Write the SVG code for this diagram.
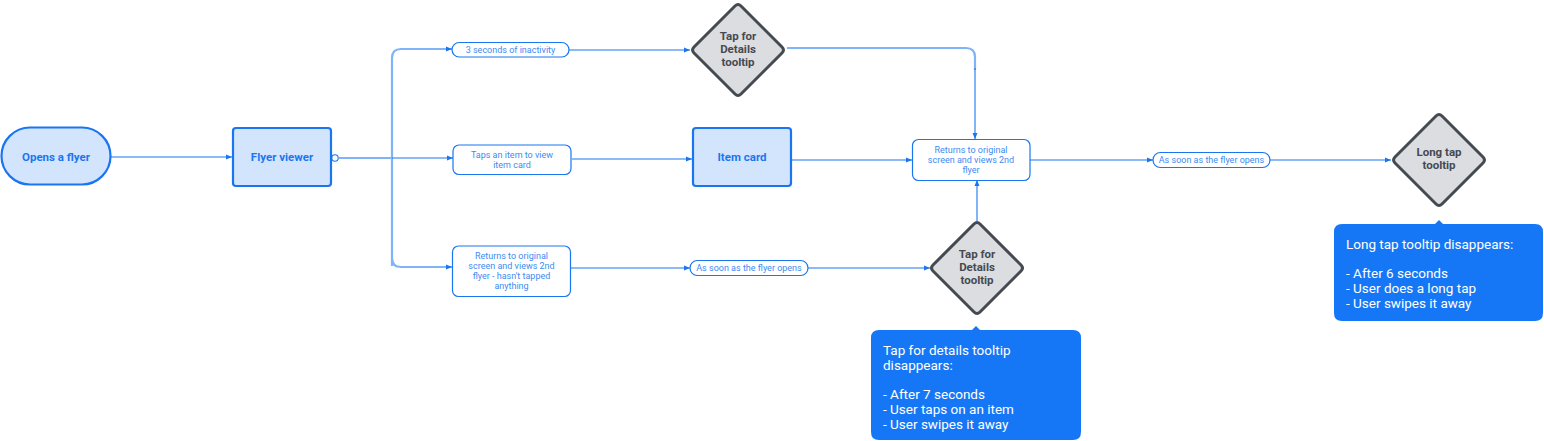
<svg xmlns="http://www.w3.org/2000/svg" width="1544" height="441" viewBox="0 0 1544 441">
<defs>
<style>
.node{fill:#d3e5fd;stroke:#1a76f0;stroke-width:2.2}
.lbl{fill:#fff;stroke:#1a76f0;stroke-width:1.2}
.dia{fill:#dcdde0;stroke:#454a51;stroke-width:3;stroke-linejoin:round}
.t1{font-family:Roboto,"Liberation Sans",sans-serif;font-weight:bold;font-size:11.5px;fill:#1a76f0;text-anchor:middle}
.t2{font-family:Roboto,"Liberation Sans",sans-serif;font-size:9px;fill:#3d8bf3;text-anchor:middle}
.td{font-family:Roboto,"Liberation Sans",sans-serif;font-weight:bold;font-size:11.5px;fill:#454a51;text-anchor:middle}
.tc{font-family:Roboto,"Liberation Sans",sans-serif;font-size:13.5px;fill:#fff}
.c{fill:none;stroke:#1a76f0;stroke-width:1.1}
.cl{fill:none;stroke:#80b4f8;stroke-width:2.2}
.call{fill:#1677f6}
</style>
<marker id="ar" viewBox="0 0 6 6" refX="6" refY="3" markerWidth="6" markerHeight="6" markerUnits="userSpaceOnUse" orient="auto">
<path d="M0,0.5 L6,3 L0,5.5 z" fill="#1a76f0"/>
</marker>
</defs>

<g id="connectors">
<path class="c" d="M111,157 L232,157" marker-end="url(#ar)"/>
<path class="cl" d="M339,158 L392,158"/>
<path class="cl" d="M392,266 L392,58 Q392,49 401,49 L448,49"/>
<path class="cl" d="M392,258 Q392,267 401,267 L448,267"/>
<path class="c" d="M446,49 L452,49" marker-end="url(#ar)"/>
<path class="c" d="M392,158 L453,158" marker-end="url(#ar)"/>
<path class="c" d="M446,267 L452,267" marker-end="url(#ar)"/>
<circle cx="335" cy="158" r="3.2" fill="#fff" stroke="#1a76f0" stroke-width="1.1"/>
<path class="c" d="M569,50 L690,50" marker-end="url(#ar)"/>
<path class="c" d="M572,159 L692,159" marker-end="url(#ar)"/>
<path class="c" d="M571,268 L690,268" marker-end="url(#ar)"/>
<path class="c" d="M808,268 L930,268" marker-end="url(#ar)"/>
<path class="cl" d="M787,48 L966,48 Q975,48 975,57 L975,70"/>
<path class="c" d="M975,68 L975,139" marker-end="url(#ar)"/>
<path class="c" d="M792,160 L912,160" marker-end="url(#ar)"/>
<path class="c" d="M977,221 L977,180" marker-end="url(#ar)"/>
<path class="c" d="M1030,160 L1153,160" marker-end="url(#ar)"/>
<path class="c" d="M1270,160 L1391,160" marker-end="url(#ar)"/>
</g>

<g id="opens-flyer">
<rect class="node" x="1.5" y="127.5" width="109" height="57" rx="28.5"/>
<text class="t1" x="56" y="160.5">Opens a flyer</text>
</g>

<g id="flyer-viewer">
<rect class="node" x="233" y="128" width="98" height="58" rx="3"/>
<text class="t1" x="282" y="161">Flyer viewer</text>
</g>

<g id="lbl-inactivity">
<rect class="lbl" x="452" y="42.5" width="117" height="14.5" rx="7.25"/>
<text class="t2" x="510.5" y="53">3 seconds of inactivity</text>
</g>

<g id="lbl-taps-item">
<rect class="lbl" x="453" y="145" width="118" height="29.5" rx="6"/>
<text class="t2" x="512" y="158">Taps an item to view</text>
<text class="t2" x="512" y="168">item card</text>
</g>

<g id="lbl-returns-untapped">
<rect class="lbl" x="452.5" y="246" width="118" height="50.5" rx="6"/>
<text class="t2" x="511.5" y="259">Returns to original</text>
<text class="t2" x="511.5" y="269">screen and views 2nd</text>
<text class="t2" x="511.5" y="279">flyer - hasn't tapped</text>
<text class="t2" x="511.5" y="289">anything</text>
</g>

<g id="lbl-soon-1">
<rect class="lbl" x="690" y="260.5" width="118" height="15" rx="7.5"/>
<text class="t2" x="749" y="271">As soon as the flyer opens</text>
</g>

<g id="tooltip-details-top">
<path class="dia" d="M735,6 Q738,3 741,6 L782,47 Q785,50 782,53 L741,94 Q738,97 735,94 L694,53 Q691,50 694,47 Z"/>
<text class="td" x="738" y="40">Tap for</text>
<text class="td" x="738" y="53">Details</text>
<text class="td" x="738" y="66">tooltip</text>
</g>

<g id="item-card">
<rect class="node" x="693" y="128" width="98" height="58" rx="3"/>
<text class="t1" x="742" y="161">Item card</text>
</g>

<g id="returns-2nd">
<rect class="lbl" x="912.5" y="139.5" width="117.5" height="41" rx="6"/>
<text class="t2" x="971" y="153">Returns to original</text>
<text class="t2" x="971" y="163">screen and views 2nd</text>
<text class="t2" x="971" y="173">flyer</text>
</g>

<g id="tooltip-details-bottom">
<path class="dia" d="M974,224 Q977,221 980,224 L1021,265 Q1024,268 1021,271 L980,312 Q977,315 974,312 L933,271 Q930,268 933,265 Z"/>
<text class="td" x="977" y="258">Tap for</text>
<text class="td" x="977" y="271">Details</text>
<text class="td" x="977" y="284">tooltip</text>
</g>

<g id="lbl-soon-2">
<rect class="lbl" x="1153" y="152.5" width="117" height="15" rx="7.5"/>
<text class="t2" x="1211.5" y="163">As soon as the flyer opens</text>
</g>

<g id="tooltip-longtap">
<path class="dia" d="M1436,116 Q1439,113 1442,116 L1483,157 Q1486,160 1483,163 L1442,204 Q1439,207 1436,204 L1395,163 Q1392,160 1395,157 Z"/>
<text class="td" x="1439" y="156">Long tap</text>
<text class="td" x="1439" y="169">tooltip</text>
</g>

<g id="callout-details">
<path class="call" d="M879,330 L972,330 L976,326 L980,330 L1073,330 Q1081,330 1081,338 L1081,432 Q1081,440 1073,440 L879,440 Q871,440 871,432 L871,338 Q871,330 879,330 Z"/>
<text class="tc" x="883" y="354.5">Tap for details tooltip</text>
<text class="tc" x="883" y="369.5">disappears:</text>
<text class="tc" x="883" y="398.5">- After 7 seconds</text>
<text class="tc" x="883" y="413.5">- User taps on an item</text>
<text class="tc" x="883" y="428.5">- User swipes it away</text>
</g>

<g id="callout-longtap">
<path class="call" d="M1342,224 L1435,224 L1439,220 L1443,224 L1535,224 Q1543,224 1543,232 L1543,313 Q1543,321 1535,321 L1342,321 Q1334,321 1334,313 L1334,232 Q1334,224 1342,224 Z"/>
<text class="tc" x="1346" y="249">Long tap tooltip disappears:</text>
<text class="tc" x="1346" y="277.5">- After 6 seconds</text>
<text class="tc" x="1346" y="292.5">- User does a long tap</text>
<text class="tc" x="1346" y="307.5">- User swipes it away</text>
</g>
</svg>
